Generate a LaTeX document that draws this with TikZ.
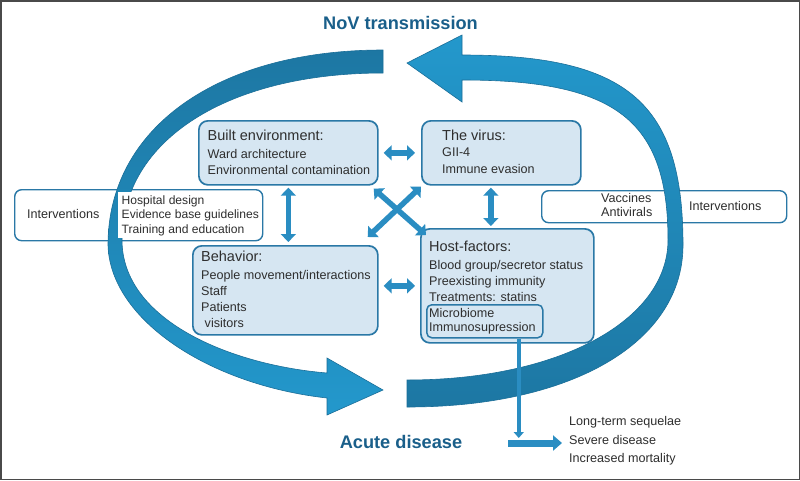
\documentclass[tikz,border=0pt]{standalone}
\usepackage{fontspec}
\setmainfont{Liberation Sans}
\usetikzlibrary{arrows.meta,calc}
\definecolor{arcdark}{HTML}{1D77A3}
\definecolor{arclight}{HTML}{2398CC}
\definecolor{arcedge}{HTML}{1A6E98}
\definecolor{ttlc}{HTML}{1A5F8A}
\definecolor{boxline}{HTML}{2A78A6}
\definecolor{boxfill}{HTML}{D6E6F2}
\definecolor{arrowmid}{HTML}{2A8DC2}
\definecolor{txt}{HTML}{2E2E2E}
\definecolor{framec}{HTML}{4A4A4A}
\tikzset{
  hdr/.style={font=\fontsize{14.5}{16}\selectfont, text=txt, anchor=base west, inner sep=0},
  itm/.style={font=\fontsize{12.6}{14}\selectfont, text=txt, anchor=base west, inner sep=0},
  itmsm/.style={font=\fontsize{12.1}{14}\selectfont, text=txt, anchor=base west, inner sep=0},
  ttl/.style={font=\fontsize{18.2}{20}\selectfont\bfseries, text=ttlc, anchor=base, inner sep=0},
  bluebox/.style={draw=boxline, fill=boxfill, line width=1.7pt, rounded corners=9pt, inner sep=0, anchor=north west},
  ivbox/.style={draw=boxline, fill=white, line width=1.4pt, rounded corners=7pt, inner sep=0, anchor=north west},
  dbl/.style={draw=arrowmid, line width=5.5pt, {Triangle[length=8pt,width=15pt]}-{Triangle[length=8pt,width=15pt]}},
  varrow/.style={draw=arrowmid, line width=3.6pt, -{Triangle[length=6pt,width=10pt]}},
  harrow/.style={draw=arrowmid, line width=7pt, -{Triangle[length=9pt,width=15pt]}},
  arcL/.style={top color=arcdark, bottom color=arclight, draw=arcedge, line width=0.6pt},
  arcR/.style={top color=arclight, bottom color=arcdark, draw=arcedge, line width=0.6pt},
}
\begin{document}
\begin{tikzpicture}[x=1pt, y=-1pt]
\useasboundingbox (0,0) rectangle (800,480);
\fill[white] (0,0) rectangle (800,480);
\draw[framec, line width=1.5pt] (0.75,0.75) rectangle (799.25,479.25);

% interventions boxes
\node[ivbox, minimum width=248pt, minimum height=51pt] (ivL) at (14,189) {};
\node[ivbox, minimum width=245pt, minimum height=32pt] (ivR) at (541,190) {};

% big curved arrows
\shadedraw[arcL] (383,50) .. controls (218,50) and (108,128) .. (108,245)
  .. controls (110,320) and (210,385) .. (327,398)
  -- (327,415) -- (383,390) -- (327,358) -- (327,373)
  .. controls (230,365) and (122,320) .. (122,240)
  .. controls (122,140) and (228,73) .. (383,73) -- cycle;
\shadedraw[arcR] (407,380) -- (407,407)
  .. controls (573,407) and (683,342) .. (683,245)
  .. controls (683,103) and (628,55) .. (462,55)
  -- (462,35) -- (407,63) -- (462,102) -- (462,80)
  .. controls (616,80) and (668,120) .. (668,240)
  .. controls (668,320) and (560,380) .. (407,380) -- cycle;

% white text area of left interventions box
\node[fill=white, inner sep=0, anchor=north west, minimum width=140pt, minimum height=46pt] (ivLcover) at (118,191.5) {};

% central boxes
\node[bluebox, minimum width=179pt, minimum height=64pt] (built) at (198,120) {};
\node[bluebox, minimum width=159pt, minimum height=64pt] (virus) at (421,120) {};
\node[bluebox, minimum width=185pt, minimum height=89pt] (behav) at (192,245) {};
\node[bluebox, minimum width=173pt, minimum height=114pt] (host) at (420,228) {};
\node[draw=boxline, line width=1.5pt, rounded corners=5pt, inner sep=0, anchor=north west,
      minimum width=116pt, minimum height=33pt] (micro) at (426,304) {};

% double arrows between boxes
\draw[dbl, shorten <=5pt, shorten >=6pt] (built.east) -- (virus.west);
\draw[dbl, shorten <=2pt, shorten >=3pt] (built.south) -- (built.south |- behav.north);
\draw[dbl, shorten <=2pt, shorten >=2pt] ([xshift=-10.5pt]virus.south) -- ([xshift=-10.5pt]virus.south |- host.north);
\draw[dbl, shorten <=5pt, shorten >=5pt] (host.west -| behav.east) -- (host.west);
\draw[dbl] ($(built.south east)+(-5,3)$) -- ($(host.north west)+(6,7)$);
\draw[dbl] ($(virus.south west)+(0,1)$) -- ($(behav.north east)+(-11,-8)$);

% titles
\node[ttl] (ttop) at (400.5,29.3) {NoV transmission};
\node[ttl] (tbot) at (401,448.3) {Acute disease};

% box texts
\node[hdr] (bt0) at (207.5,140) {Built environment:};
\node[itm] (bt1) at (207.5,158.3) {Ward architecture};
\node[itm] (bt2) at (207.5,174.3) {Environmental contamination};

\node[hdr] (vt0) at (442,140) {The virus:};
\node[itm] (vt1) at (442,156.7) {GII-4};
\node[itm] (vt2) at (442,173.3) {Immune evasion};

\node[hdr] (wt0) at (201,261.7) {Behavior:};
\node[itm] (wt1) at (201,279.3) {People movement/interactions};
\node[itm] (wt2) at (201,295) {Staff};
\node[itm] (wt3) at (201,311.7) {Patients};
\node[itm] (wt4) at (201,327.3) {\ visitors};

\node[hdr] (ht0) at (429,251.7) {Host-factors:};
\node[itm] (ht1) at (429,269) {Blood group/secretor status};
\node[itm] (ht2) at (429,285) {Preexisting immunity};
\node[itm] (ht3) at (429,301.7) {Treatments: statins};
\node[itm] (ht4) at (429,317.3) {Microbiome};
\node[itm] (ht5) at (429,331) {Immunosupression};

\node[itm] (il0) at (27,218.3) {Interventions};
\node[itmsm] (il1) at (121.5,204) {Hospital design};
\node[itmsm] (il2) at (121.5,218.3) {Evidence base guidelines};
\node[itmsm] (il3) at (121.5,233.3) {Training and education};

\node[itm] (ir1) at (601,202.3) {Vaccines};
\node[itm] (ir2) at (601,216.7) {Antivirals};
\node[itm] (ir0) at (689,210) {Interventions};

\node[itm] (oc1) at (569,425) {Long-term sequelae};
\node[itm] (oc2) at (569,444) {Severe disease};
\node[itm] (oc3) at (569,462.7) {Increased mortality};

% outcome connectors
\coordinate (hstart) at (508,443);
\draw[varrow, shorten >=5pt] ([xshift=34pt]micro.south) -- ([xshift=34pt]micro.south |- hstart);
\draw[harrow, shorten >=7pt] (hstart) -- (hstart -| oc2.west);
\end{tikzpicture}
\end{document}
